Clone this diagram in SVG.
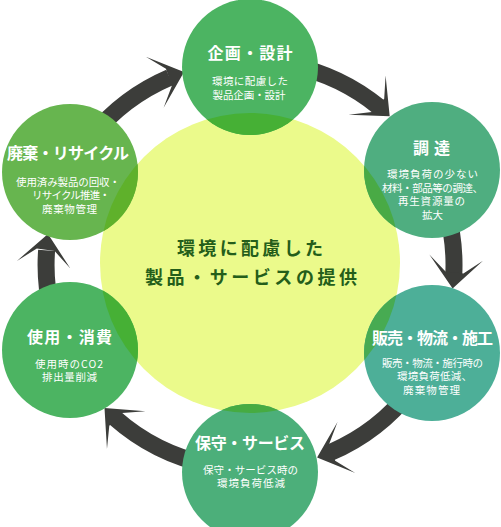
<svg xmlns="http://www.w3.org/2000/svg" xmlns:xlink="http://www.w3.org/1999/xlink" width="501" height="527" viewBox="0 0 501 527">
<style>
.arc{fill:none;stroke:#3c3d3a;stroke-width:17}
.head{fill:#3c3d3a}
.t{font-family:'Noto Sans CJK JP','Noto Sans',sans-serif;fill:#ffffff;text-anchor:middle}
.ttl{font-size:16px;font-weight:bold}
.bd{font-size:10.5px}
.ctr{font-family:'Noto Sans CJK JP','Noto Sans',sans-serif;font-size:18px;font-weight:bold;fill:#245e1a;text-anchor:middle}
</style>
<defs>
<clipPath id="cy"><circle cx="250" cy="263" r="150"/></clipPath>
<path id="head" d="M0,0 L-31,-27 L-16,-9 L-16,9 L-31,27 Z"/>
</defs>
<rect width="501" height="527" fill="#ffffff"/>
<g id="connectors">
<path class="arc" d="M92.1,135.8 A204,204 0 0 1 169.6,77.5"/>
<path class="arc" d="M292.4,65.5 A204,204 0 0 1 378.9,106.9"/>
<path class="arc" d="M446.5,210.1 A204,204 0 0 1 453.8,274.3"/>
<path class="arc" d="M411.2,390 A204,204 0 0 1 330.4,452.5"/>
<path class="arc" d="M207.6,464.5 A204,204 0 0 1 114.8,417.8"/>
<path class="arc" d="M51.5,311.9 A204,204 0 0 1 46.6,250.4"/>
<use class="head" xlink:href="#head" transform="translate(184,72) rotate(-19.2)"/>
<use class="head" xlink:href="#head" transform="translate(389.7,116.3) rotate(43.2)"/>
<use class="head" xlink:href="#head" transform="translate(452.6,288.4) rotate(96.6)"/>
<use class="head" xlink:href="#head" transform="translate(317.1,457.6) rotate(160.8)"/>
<use class="head" xlink:href="#head" transform="translate(104.5,408) rotate(225.5)"/>
<use class="head" xlink:href="#head" transform="translate(48,234) rotate(278.1)"/>
</g>
<g id="node-center">
<circle cx="250" cy="263" r="150" fill="#ebfa8b"/>
<text class="ctr" x="250" y="255" textLength="146" lengthAdjust="spacing">環境に配慮した</text>
<text class="ctr" x="251" y="284" textLength="212" lengthAdjust="spacing">製品・サービスの提供</text>
</g>
<g id="node-kikaku">
<circle cx="250" cy="67" r="68" fill="#4cb462"/>
<circle cx="250" cy="67" r="68" fill="#46b035" clip-path="url(#cy)"/>
<text class="t ttl" x="250" y="59" textLength="85" lengthAdjust="spacing">企画・設計</text>
<text class="t bd" x="250" y="85" textLength="76" lengthAdjust="spacing">環境に配慮した</text>
<text class="t bd" x="249" y="99" textLength="73" lengthAdjust="spacing">製品企画・設計</text>
</g>
<g id="node-chotatsu">
<circle cx="432" cy="170" r="68" fill="#4fae80"/>
<circle cx="432" cy="170" r="68" fill="#49aa45" clip-path="url(#cy)"/>
<text class="t ttl" x="431.5" y="154" textLength="37" lengthAdjust="spacing">調達</text>
<text class="t bd" x="432.5" y="178" textLength="91" lengthAdjust="spacing">環境負荷の少ない</text>
<text class="t bd" x="432.5" y="191.5" textLength="101" lengthAdjust="spacing">材料・部品等の調達、</text>
<text class="t bd" x="431.5" y="205" textLength="67" lengthAdjust="spacing">再生資源量の</text>
<text class="t bd" x="432.5" y="218.5" textLength="21" lengthAdjust="spacing">拡大</text>
</g>
<g id="node-hanbai">
<circle cx="432" cy="353" r="68" fill="#4daf98"/>
<circle cx="432" cy="353" r="68" fill="#47ab52" clip-path="url(#cy)"/>
<text class="t ttl" x="432.5" y="344" textLength="121" lengthAdjust="spacing">販売・物流・施工</text>
<text class="t bd" x="432.5" y="366.5" textLength="101" lengthAdjust="spacing">販売・物流・施行時の</text>
<text class="t bd" x="434.5" y="380" textLength="75" lengthAdjust="spacing">環境負荷低減、</text>
<text class="t bd" x="431.5" y="393.5" textLength="57" lengthAdjust="spacing">廃棄物管理</text>
</g>
<g id="node-hoshu">
<circle cx="250" cy="472" r="68" fill="#4caf7a"/>
<circle cx="250" cy="472" r="68" fill="#46ab42" clip-path="url(#cy)"/>
<text class="t ttl" x="250" y="449" textLength="110" lengthAdjust="spacing">保守・サービス</text>
<text class="t bd" x="250.5" y="473.5" textLength="95" lengthAdjust="spacing">保守・サービス時の</text>
<text class="t bd" x="251" y="487" textLength="68" lengthAdjust="spacing">環境負荷低減</text>
</g>
<g id="node-shiyo">
<circle cx="70" cy="350" r="68" fill="#4cb462"/>
<circle cx="70" cy="350" r="68" fill="#46b035" clip-path="url(#cy)"/>
<text class="t ttl" x="69.5" y="343" textLength="85" lengthAdjust="spacing">使用・消費</text>
<text class="t bd" x="69" y="367.5" textLength="68" lengthAdjust="spacing">使用時のCO2</text>
<text class="t bd" x="69.5" y="381" textLength="55" lengthAdjust="spacing">排出量削減</text>
</g>
<g id="node-haiki">
<circle cx="70" cy="172" r="68" fill="#67b54f"/>
<circle cx="70" cy="172" r="68" fill="#5fb12b" clip-path="url(#cy)"/>
<text class="t ttl" x="68" y="159" textLength="122" lengthAdjust="spacing">廃棄・リサイクル</text>
<text class="t bd" x="68" y="185.5" textLength="104" lengthAdjust="spacing">使用済み製品の回収・</text>
<text class="t bd" x="71" y="199" textLength="78" lengthAdjust="spacing">リサイクル推進・</text>
<text class="t bd" x="69.5" y="212.5" textLength="55" lengthAdjust="spacing">廃棄物管理</text>
</g>
</svg>
